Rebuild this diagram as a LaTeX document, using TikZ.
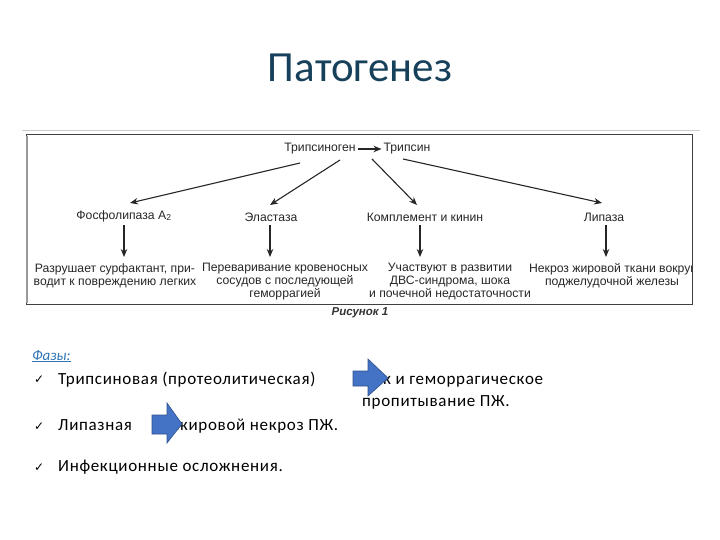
\documentclass[tikz,border=0pt]{standalone}
\usepackage{fontspec}
\setmainfont{Carlito}
\newfontfamily\figfont{Liberation Sans}
\newfontfamily\symfont{DejaVu Sans}
\usetikzlibrary{arrows.meta}
\definecolor{titlecol}{HTML}{17405A}
\definecolor{arrblue}{HTML}{4472C4}
\definecolor{arrline}{HTML}{2F528F}
\definecolor{linkblue}{HTML}{2E74B5}
\begin{document}
\begin{tikzpicture}[x=1pt,y=-1pt,
  figtxt/.style={font=\figfont\fontsize{12.2}{13}\selectfont, text=black!85, inner sep=0pt, align=center},
  conn/.style={draw=black!85, line width=1.1pt, -{Stealth[length=8pt,width=6.5pt]}},
  bodytxt/.style={font=\addfontfeature{LetterSpace=4}\fontsize{17}{20}\selectfont, inner sep=0pt, anchor=base west},
  blockarrow/.style={fill=arrblue, draw=arrline, line width=0.6pt}
]
\useasboundingbox (0,0) rectangle (720,540);
% title
\node[font=\fontsize{43}{46}\selectfont, text=titlecol] (title) at (360,68) {Патогенез};
% figure frame
\draw[black!20, line width=0.5pt] (22,130) -- (700,130);
\draw[black!75, line width=1pt] (26,135) rectangle (692,304);
\draw[black!40, line width=2.2pt] (27,136) -- (27,303);
% top nodes
\node[figtxt] (tg) at (320,149) {Трипсиноген};
\node[figtxt] (tr) at (407,149) {Трипсин};
\draw[conn] (tg.east) ++(2,0) coordinate (tge) -- ([xshift=-2pt]tr.west);
% middle nodes
\node[figtxt] (f) at (124,216) {Фосфолипаза A\textsubscript{2}};
\node[figtxt] (e) at (271,217) {Эластаза};
\node[figtxt] (k) at (425,217) {Комплемент и кинин};
\node[figtxt] (l) at (604,217) {Липаза};
\coordinate (s1) at (300,163);
\coordinate (s2) at (340,160);
\coordinate (s3) at (372,159);
\coordinate (s4) at (403,159);
\coordinate (t1) at (130,203);
\coordinate (t2) at (270,205);
\coordinate (t3) at (417,205);
\coordinate (t4) at (602,203);
\draw[conn] (s1) -- (t1);
\draw[conn] (s2) -- (t2);
\draw[conn] (s3) -- (t3);
\draw[conn] (s4) -- (t4);
% bottom texts
\node[figtxt, anchor=north] (bf) at (115,263) {Разрушает сурфактант, при-\\водит к повреждению легких};
\node[figtxt, anchor=north] (be) at (285,263) {Переваривание кровеносных\\сосудов с последующей\\геморрагией};
\node[figtxt, anchor=north] (bk) at (450,263) {Участвуют в развитии\\ДВС-синдрома, шока\\и почечной недостаточности};
\begin{scope}
\clip (26,135) rectangle (691,304);
\node[figtxt, anchor=north] (bl) at (612,263) {Некроз жировой ткани вокруг\\поджелудочной железы};
\end{scope}
\draw[conn] (124,225) -- (124,257);
\draw[conn] (270,225) -- (270,257);
\draw[conn] (420,225) -- (420,257);
\draw[conn] (606,225) -- (606,257);
\node[font=\figfont\bfseries\itshape\fontsize{11.5}{12}\selectfont, text=black!80, inner sep=0pt] (cap) at (360,313) {Рисунок 1};
% phases
\node[bodytxt, text=linkblue, font=\itshape\fontsize{15}{18}\selectfont] (ph) at (32,360) {\underline{Фазы:}};
\node[bodytxt, font=\symfont\fontsize{12}{14}\selectfont] (c1) at (34,383) {✓};
\node[bodytxt, font=\symfont\fontsize{12}{14}\selectfont] (c2) at (34,430) {✓};
\node[bodytxt, font=\symfont\fontsize{12}{14}\selectfont] (c3) at (34,471) {✓};
\node[bodytxt] (p1) at (58,384) {Трипсиновая (протеолитическая)};
\node[bodytxt] (p1b) at (383,384) {к и геморрагическое};
\node[bodytxt] (p1c) at (362,406) {пропитывание ПЖ.};
\node[bodytxt] (p2) at (58,430) {Липазная};
\node[bodytxt] (p2b) at (176,430) {жировой некроз ПЖ.};
\node[bodytxt] (p3) at (58,471) {Инфекционные осложнения.};
% block arrows
\draw[blockarrow] (353,371) -- (368,371) -- (368,359) -- (388,378) -- (368,396) -- (368,386) -- (353,386) -- cycle;
\draw[blockarrow] (152,415) -- (167,415) -- (167,403) -- (182,424) -- (167,443) -- (167,434) -- (152,434) -- cycle;
\end{tikzpicture}
\end{document}
